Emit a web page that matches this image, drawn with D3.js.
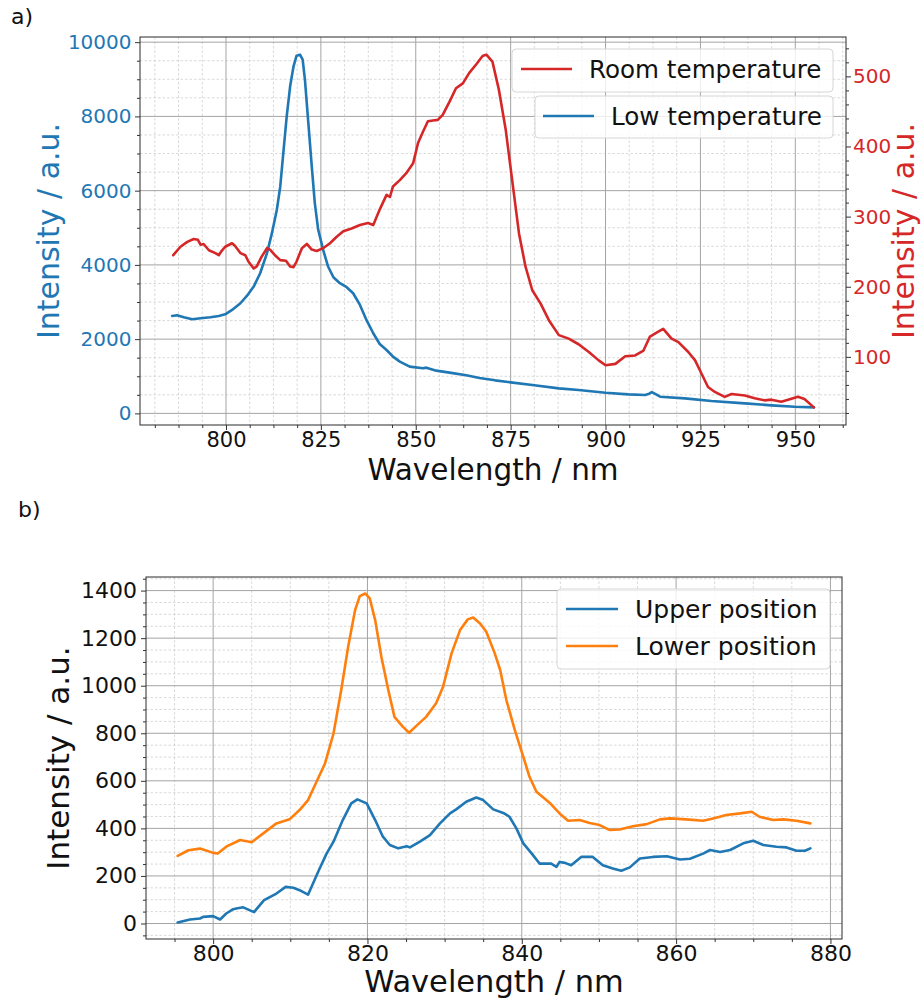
<!DOCTYPE html>
<html>
<head>
<meta charset="utf-8">
<script src="https://cdn.jsdelivr.net/npm/d3@7"></script>
<style>
  body { margin: 0; background: #fff; }
  svg { display: block; font-family: "DejaVu Sans", sans-serif; }
</style>
</head>
<body>
<svg id="fig" width="921" height="1000"></svg>
<script>
// ---- Panel a): low-temperature vs room-temperature spectra ----
const lowTempNm = [785.8, 787.1, 788.9, 791.1, 793.3, 795.9, 798.1, 800.0, 801.6, 803.8, 805.5, 807.3, 809.0,
  810.8, 812.1, 813.4, 814.3, 815.1, 816.0, 816.9, 817.8, 818.6, 819.5, 820.2, 820.8, 821.7, 822.6, 823.4,
  824.3, 825.6, 826.9, 828.3, 830.0, 831.8, 833.5, 835.3, 837.0, 838.8, 840.5, 842.3, 844.0, 845.8, 848.4,
  851.9, 852.8, 855.4, 858.9, 863.3, 866.8, 870.9, 875.0, 880.7, 887.7, 892.9, 900.0, 906.0, 910.4, 911.5,
  912.2, 913.2, 914.4, 920.9, 927.9, 936.7, 943.7, 949.8, 954.9];
const lowTempCounts = [2625, 2643, 2589, 2535, 2562, 2589, 2625, 2679, 2787, 2967, 3164, 3416, 3776,
  4315, 4855, 5484, 6113, 7012, 8001, 8810, 9350, 9637, 9664, 9529, 8990, 7821, 6653, 5664,
  4945, 4405, 3956, 3668, 3506, 3398, 3236, 2922, 2517, 2158, 1870, 1708, 1528, 1393, 1259,
  1214, 1232, 1151, 1097, 1025, 955, 890, 836, 764, 674, 629, 557, 512, 494, 530,
  575, 520, 450, 405, 333, 270, 216, 180, 162];

const roomTempNm = [786.1, 788.0, 789.8, 791.5, 792.6, 793.3, 794.1, 795.5, 797.2, 798.1, 798.7, 799.8, 801.6,
  802.4, 803.8, 805.1, 805.9, 807.3, 808.1, 809.4, 810.8, 811.6, 812.9, 814.3, 815.8, 816.9, 817.8, 818.6,
  820.0, 821.3, 822.6, 823.9, 825.6, 827.4, 829.1, 830.9, 833.1, 835.3, 837.4, 838.8, 840.5, 842.3, 843.2,
  844.0, 845.8, 847.5, 849.3, 850.6, 851.9, 853.2, 854.5, 855.8, 857.1, 858.9, 860.6, 862.4, 864.1, 865.9,
  867.6, 868.6, 870.2, 871.9, 873.7, 875.4, 877.2, 878.9, 880.7, 882.9, 885.1, 887.7, 890.3, 892.9, 895.6,
  898.2, 900.0, 902.6, 905.2, 907.8, 910.0, 911.7, 913.9, 915.2, 917.4, 919.2, 921.8, 923.6, 925.3, 927.0,
  928.8, 931.4, 933.2, 936.7, 939.3, 941.9, 943.7, 946.3, 948.1, 950.7, 952.4, 954.9];
const roomTempCounts = [245, 257, 264, 268, 267, 260, 261, 252, 248, 245, 250, 257, 262,
  258, 248, 245, 236, 226, 229, 243, 255, 253, 245, 238, 237, 229, 228, 236,
  255, 261, 253, 251, 255, 262, 271, 279, 283, 288, 291, 288, 310, 331, 328,
  343, 352, 362, 376, 405, 421, 436, 437, 438, 445, 464, 483, 490, 505, 517,
  529, 531, 521, 481, 424, 352, 276, 229, 195, 176, 152, 131, 126, 118, 107,
  95, 88, 90, 101, 102, 109, 129, 136, 140, 126, 121, 107, 95, 76, 57,
  50, 43, 47, 45, 41, 38, 39, 36, 39, 43, 40, 28];

// ---- Panel b): upper vs lower position spectra ----
const upperNm = [795.4, 796.6, 797.0, 798.3, 798.7, 800.0, 800.9, 801.7, 802.6, 803.0, 803.9, 805.3, 806.6,
  808.2, 809.4, 810.4, 811.2, 812.3, 813.7, 814.7, 815.6, 816.8, 817.9, 818.7, 819.9, 821.0, 822.0, 822.9,
  824.0, 825.1, 825.5, 826.8, 828.1, 829.4, 830.7, 831.5, 832.8, 834.1, 835.0, 836.3, 837.6, 838.4, 839.3,
  840.2, 841.3, 842.3, 843.8, 844.5, 844.9, 845.6, 846.4, 847.7, 849.2, 850.5, 851.8, 852.9, 854.0, 855.3,
  857.0, 858.8, 860.5, 861.8, 863.5, 864.4, 865.7, 867.0, 868.7, 870.0, 871.3, 873.0, 874.3, 875.6, 876.7, 877.4];
const upperCounts = [4, 14, 17, 21, 28, 31, 17, 42, 60, 63, 68, 48, 98,
  126, 154, 150, 140, 121, 224, 294, 344, 435, 505, 522, 505, 435, 365, 330,
  316, 325, 320, 344, 372, 421, 463, 480, 512, 530, 519, 480, 465, 449, 400,
  337, 294, 252, 252, 238, 259, 255, 245, 280, 280, 245, 231, 222, 236, 273,
  280, 283, 269, 272, 294, 309, 301, 309, 337, 348, 330, 323, 320, 306, 306, 316];

const lowerNm = [795.4, 796.8, 798.3, 798.7, 800.0, 800.6, 801.7, 803.5, 805.0, 806.5, 808.2, 809.9, 811.2,
  812.3, 813.4, 814.5, 815.6, 816.6, 817.5, 818.4, 819.0, 819.7, 820.3, 821.0, 821.8, 822.7, 823.5, 824.6,
  825.4, 826.3, 827.6, 828.9, 829.8, 830.9, 832.0, 833.0, 833.7, 834.6, 835.4, 836.5, 837.2, 838.0, 839.1,
  840.2, 841.0, 841.9, 843.6, 844.9, 846.0, 847.5, 848.8, 850.1, 851.4, 852.7, 854.4, 856.2, 857.9, 859.2,
  861.3, 863.5, 864.8, 866.5, 868.3, 869.8, 870.8, 872.6, 873.9, 875.6, 877.4];
const lowerCounts = [284, 308, 315, 311, 297, 294, 323, 351, 342, 379, 421, 438, 477,
  519, 596, 673, 799, 982, 1164, 1318, 1377, 1388, 1367, 1276, 1122, 982, 869, 827,
  802, 830, 869, 926, 996, 1136, 1234, 1279, 1287, 1262, 1227, 1136, 1066, 940, 813,
  701, 617, 554, 508, 463, 432, 435, 423, 414, 393, 395, 409, 418, 438, 442,
  438, 432, 442, 456, 463, 470, 449, 435, 438, 432, 421];

// ---- Tick labels ----
const aXTicks = [800, 825, 850, 875, 900, 925, 950];
const aLeftTicks = [0, 2000, 4000, 6000, 8000, 10000];
const aRightTicks = [100, 200, 300, 400, 500];
const bXTicks = [800, 820, 840, 860, 880];
const bYTicks = [0, 200, 400, 600, 800, 1000, 1200, 1400];

const BLUE = "#1f77b4", ORANGE = "#ff7f0e", RED = "#d62728";
const svg = d3.select("#fig");

// Autoscale with 5% margin on each side
function padded(values, frac = 0.05) {
  const [lo, hi] = d3.extent(values);
  const p = (hi - lo) * frac;
  return [lo - p, hi + p];
}
// Multiples of step inside a domain
function stepsIn(domain, step) {
  const a = Math.ceil(domain[0] / step - 1e-9), b = Math.floor(domain[1] / step + 1e-9);
  return d3.range(a, b + 1).map(i => +(i * step).toFixed(6));
}
function minorOnly(domain, step, majors) {
  return stepsIn(domain, step).filter(v => !majors.some(m => Math.abs(m - v) < 1e-6));
}

function drawGrid(g, x, y, box, xMaj, xMin, yMaj, yMin) {
  const minorStyle = s => s.attr("stroke", "#cfcfcf").attr("stroke-width", 0.8).attr("stroke-dasharray", "2.5,2");
  const majorStyle = s => s.attr("stroke", "#a4a4a4").attr("stroke-width", 1);
  g.append("g").selectAll("line").data(xMin).join("line")
    .attr("x1", d => x(d)).attr("x2", d => x(d)).attr("y1", box.y0).attr("y2", box.y1).call(minorStyle);
  g.append("g").selectAll("line").data(yMin).join("line")
    .attr("x1", box.x0).attr("x2", box.x1).attr("y1", d => y(d)).attr("y2", d => y(d)).call(minorStyle);
  g.append("g").selectAll("line").data(xMaj).join("line")
    .attr("x1", d => x(d)).attr("x2", d => x(d)).attr("y1", box.y0).attr("y2", box.y1).call(majorStyle);
  g.append("g").selectAll("line").data(yMaj).join("line")
    .attr("x1", box.x0).attr("x2", box.x1).attr("y1", d => y(d)).attr("y2", d => y(d)).call(majorStyle);
}

function styleAxis(sel, color, fontSize) {
  sel.select(".domain").remove();
  sel.selectAll(".tick line").attr("stroke", "#333").attr("stroke-width", 1);
  sel.selectAll(".tick text").attr("fill", color).style("font-size", fontSize + "px")
    .style("font-family", "'DejaVu Sans', sans-serif");
}

function addAxis(g, axisFn, scale, pos, majors, minors, color, fontSize, pad) {
  const major = g.append("g").attr("transform", pos)
    .call(axisFn(scale).tickValues(majors).tickSize(5).tickPadding(pad).tickFormat(d3.format("d")));
  styleAxis(major, color, fontSize);
  const minor = g.append("g").attr("transform", pos)
    .call(axisFn(scale).tickValues(minors).tickSize(3).tickFormat(""));
  styleAxis(minor, color, fontSize);
  return major;
}

function drawLine(g, x, y, xs, ys, color) {
  g.append("path").datum(d3.zip(xs, ys))
    .attr("fill", "none").attr("stroke", color).attr("stroke-width", 2.6)
    .attr("stroke-linejoin", "round").attr("stroke-linecap", "round")
    .attr("d", d3.line().x(d => x(d[0])).y(d => y(d[1])));
}

function legendBox(g, x0, y0, x1, y1) {
  g.append("rect").attr("x", x0).attr("y", y0).attr("width", x1 - x0).attr("height", y1 - y0)
    .attr("rx", 4).attr("fill", "rgba(255,255,255,0.8)").attr("stroke", "#d6d6d6").attr("stroke-width", 1);
}
function legendEntry(g, lx0, lx1, ly, tx, ty, color, label, fs) {
  g.append("line").attr("x1", lx0).attr("x2", lx1).attr("y1", ly).attr("y2", ly)
    .attr("stroke", color).attr("stroke-width", 2.6);
  g.append("text").attr("x", tx).attr("y", ty).attr("fill", "#111").style("font-size", fs + "px").text(label);
}

function spines(g, box) {
  g.append("rect").attr("x", box.x0).attr("y", box.y0).attr("width", box.x1 - box.x0).attr("height", box.y1 - box.y0)
    .attr("fill", "none").attr("stroke", "#2a2a2a").attr("stroke-width", 1);
}

// ================= Panel a) =================
{
  const box = { x0: 140, x1: 846, y0: 37, y1: 425 };
  const g = svg.append("g");
  const x = d3.scaleLinear().domain(padded(lowTempNm.concat(roomTempNm))).range([box.x0, box.x1]);
  const yL = d3.scaleLinear().domain(padded(lowTempCounts)).range([box.y1, box.y0]);
  const yR = d3.scaleLinear().domain(padded(roomTempCounts)).range([box.y1, box.y0]);

  const xMin = minorOnly(x.domain(), 6.25, aXTicks);
  const yMin = minorOnly(yL.domain(), 500, aLeftTicks);
  const yRMin = minorOnly(yR.domain(), 20, aRightTicks);

  drawGrid(g, x, yL, box, stepsIn(x.domain(), 25), xMin, stepsIn(yL.domain(), 2000), yMin);

  drawLine(g, x, yL, lowTempNm, lowTempCounts, BLUE);

  // Legend for the left-axis series
  legendBox(g, 535, 96, 833, 138);
  legendEntry(g, 543, 594, 116, 611, 125, BLUE, "Low temperature", 24.6);

  drawLine(g, x, yR, roomTempNm, roomTempCounts, RED);

  legendBox(g, 512, 49, 833, 92);
  legendEntry(g, 521, 572, 69, 589, 78, RED, "Room temperature", 24.6);

  spines(g, box);
  addAxis(g, d3.axisBottom, x, `translate(0,${box.y1})`, aXTicks, xMin, "#111", 21, 2);
  addAxis(g, d3.axisLeft, yL, `translate(${box.x0},0)`, aLeftTicks, yMin, BLUE, 20, 3.5);
  addAxis(g, d3.axisRight, yR, `translate(${box.x1},0)`, aRightTicks, yRMin, RED, 20, 2);

  const cy = (box.y0 + box.y1) / 2;
  g.append("text").attr("transform", `translate(58.5,${cy}) rotate(-90)`).attr("text-anchor", "middle")
    .attr("fill", BLUE).style("font-size", "30px").text("Intensity / a.u.");
  g.append("text").attr("transform", `translate(914,${cy}) rotate(-90)`).attr("text-anchor", "middle")
    .attr("fill", RED).style("font-size", "30px").text("Intensity / a.u.");
  g.append("text").attr("x", (box.x0 + box.x1) / 2).attr("y", 480).attr("text-anchor", "middle")
    .attr("fill", "#111").style("font-size", "29.5px").text("Wavelength / nm");
  g.append("text").attr("x", 11).attr("y", 24).attr("fill", "#111").style("font-size", "22px").text("a)");
}

// ================= Panel b) =================
{
  const box = { x0: 146, x1: 842, y0: 577, y1: 939 };
  const g = svg.append("g");
  const x = d3.scaleLinear().domain(padded(upperNm.concat(lowerNm))).range([box.x0, box.x1]);
  const y = d3.scaleLinear().domain(padded(upperCounts.concat(lowerCounts))).range([box.y1, box.y0]);

  const xMin = minorOnly(x.domain(), 5, bXTicks);
  const yMin = minorOnly(y.domain(), 50, bYTicks);

  drawGrid(g, x, y, box, stepsIn(x.domain(), 20), xMin, stepsIn(y.domain(), 200), yMin);

  drawLine(g, x, y, upperNm, upperCounts, BLUE);
  drawLine(g, x, y, lowerNm, lowerCounts, ORANGE);

  legendBox(g, 557, 589, 830, 669);
  legendEntry(g, 566, 618, 609, 635, 618, BLUE, "Upper position", 25);
  legendEntry(g, 566, 618, 646, 635, 655, ORANGE, "Lower position", 25);

  spines(g, box);
  addAxis(g, d3.axisBottom, x, `translate(0,${box.y1})`, bXTicks, xMin, "#111", 22, 1);
  addAxis(g, d3.axisLeft, y, `translate(${box.x0},0)`, bYTicks, yMin, "#111", 22, 4);

  g.append("text").attr("transform", `translate(69,${(box.y0 + box.y1) / 2}) rotate(-90)`).attr("text-anchor", "middle")
    .attr("fill", "#111").style("font-size", "31px").text("Intensity / a.u.");
  g.append("text").attr("x", (box.x0 + box.x1) / 2).attr("y", 992).attr("text-anchor", "middle")
    .attr("fill", "#111").style("font-size", "30.5px").text("Wavelength / nm");
  g.append("text").attr("x", 18).attr("y", 517).attr("fill", "#111").style("font-size", "22px").text("b)");
}
</script>
</body>
</html>
